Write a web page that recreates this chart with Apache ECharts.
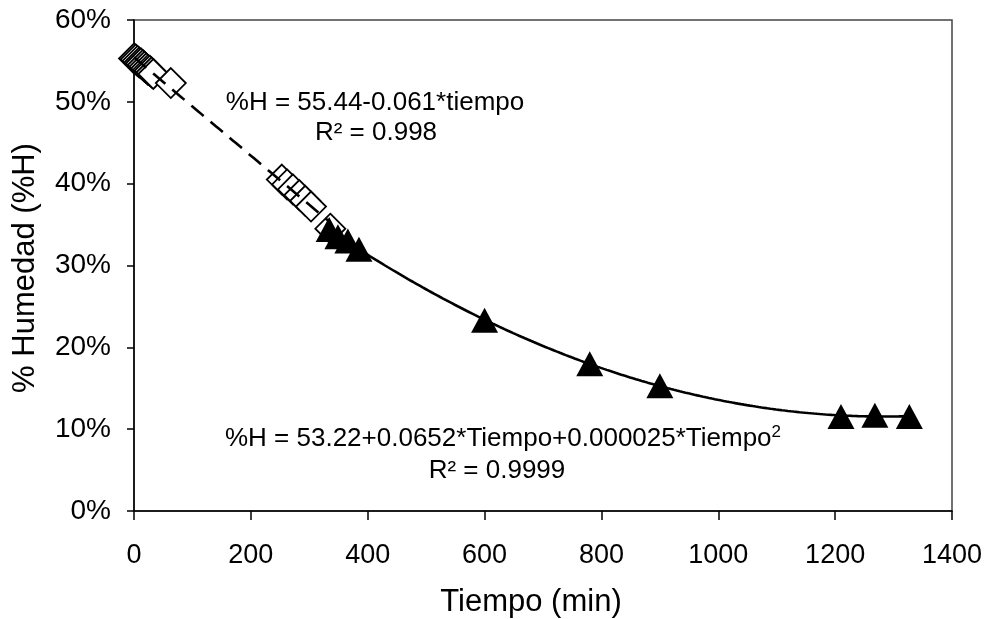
<!DOCTYPE html>
<html>
<head>
<meta charset="utf-8">
<script src="https://cdn.jsdelivr.net/npm/echarts@6/dist/echarts.min.js"></script>
<style>
html,body{margin:0;padding:0;background:#fff;}
#main{width:988px;height:619px;}
</style>
</head>
<body>
<div id="main"></div>
<script>
// ---- data ----
const diamondTime = [0, 3, 6, 9, 12, 15, 18, 21, 24, 27, 30, 33, 63, 253, 262, 272, 283, 293, 303, 336];
const diamondHum  = [55.3, 55.2, 55.0, 54.8, 54.7, 54.5, 54.3, 54.1, 53.9, 53.8, 53.6, 53.4, 52.3, 40.5, 39.9, 39.3, 38.6, 37.9, 37.2, 34.5];
const triangleTime = [334, 349, 366, 385, 600, 780, 900, 1210, 1268, 1327];
const triangleHum  = [34.4, 33.5, 33.0, 32.0, 23.3, 18.0, 15.3, 11.55, 11.7, 11.55];
const xTicks = [0, 200, 400, 600, 800, 1000, 1200, 1400];
const yTicks = [0, 10, 20, 30, 40, 50, 60];
const eq1 = '%H = 55.44-0.061*tiempo';
const r1 = 'R² = 0.998';
const eq2 = '%H = 53.22+0.0652*Tiempo+0.000025*Tiempo';
const r2 = 'R² = 0.9999';
const xTitle = 'Tiempo (min)';
const yTitle = '% Humedad (%H)';

// ---- least-squares trendlines (like the spreadsheet trendlines) ----
function polyFit(xs, ys, deg) {
  const n = deg + 1;
  const A = [];
  for (let i = 0; i < n; i++) { A.push(new Array(n + 1).fill(0)); }
  for (let k = 0; k < xs.length; k++) {
    for (let i = 0; i < n; i++) {
      for (let j = 0; j < n; j++) A[i][j] += Math.pow(xs[k], i + j);
      A[i][n] += ys[k] * Math.pow(xs[k], i);
    }
  }
  for (let i = 0; i < n; i++) {
    let p = i;
    for (let r = i + 1; r < n; r++) if (Math.abs(A[r][i]) > Math.abs(A[p][i])) p = r;
    [A[i], A[p]] = [A[p], A[i]];
    for (let r = 0; r < n; r++) {
      if (r === i) continue;
      const f = A[r][i] / A[i][i];
      for (let c = i; c <= n; c++) A[r][c] -= f * A[i][c];
    }
  }
  return A.map((row, i) => row[n] / row[i]);
}
function trend(xs, ys, deg, step) {
  const c = polyFit(xs, ys, deg);
  const lo = Math.min.apply(null, xs), hi = Math.max.apply(null, xs);
  const ev = t => { let v = 0; for (let i = 0; i < c.length; i++) v += c[i] * Math.pow(t, i); return v; };
  const pts = [];
  for (let t = lo; t <= hi + 1e-9; t += step) pts.push([t, ev(t)]);
  if (pts[pts.length - 1][0] < hi) pts.push([hi, ev(hi)]);
  return pts;
}
const linTrend = trend(diamondTime, diamondHum, 1, 5);
const quadTrend = trend(triangleTime, triangleHum, 2, 5);

const FONT = 'Liberation Sans, Arial, sans-serif';
const chart = echarts.init(document.getElementById('main'), null, {renderer: 'canvas'});
chart.setOption({
  animation: false,
  backgroundColor: '#fff',
  grid: {left: 134, right: 36, top: 20, bottom: 108, show: true, borderColor: '#444', borderWidth: 1.5, backgroundColor: 'transparent'},
  xAxis: {
    type: 'value', min: xTicks[0], max: xTicks[xTicks.length - 1], interval: 200,
    axisLine: {show: true, onZero: false, lineStyle: {color: '#000', width: 1.5}},
    axisTick: {show: true, inside: false, length: 9, lineStyle: {color: '#000', width: 1.5}},
    axisLabel: {color: '#000', fontFamily: FONT, fontSize: 27, margin: 31, formatter: v => String(v)},
    splitLine: {show: false}
  },
  yAxis: {
    type: 'value', min: yTicks[0], max: yTicks[yTicks.length - 1], interval: 10,
    axisLine: {show: true, onZero: false, lineStyle: {color: '#000', width: 1.5}},
    axisTick: {show: true, inside: false, length: 7, lineStyle: {color: '#000', width: 1.5}},
    axisLabel: {color: '#000', fontFamily: FONT, fontSize: 28, margin: 23, formatter: v => v + '%'},
    splitLine: {show: false}
  },
  series: [
    {
      type: 'scatter', name: 'lineal', z: 2,
      data: diamondTime.map((t, i) => [t, diamondHum[i]]),
      symbol: 'diamond', symbolSize: 30,
      itemStyle: {color: '#fff', borderColor: '#000', borderWidth: 1.8, opacity: 1}
    },
    {
      type: 'scatter', name: 'cuadratica', z: 3,
      data: triangleTime.map((t, i) => [t, triangleHum[i]]),
      symbol: 'triangle', symbolSize: [27, 25],
      itemStyle: {color: '#000', borderColor: '#000', borderWidth: 0, opacity: 1}
    },
    {
      type: 'line', z: 4, data: linTrend, showSymbol: false, symbol: 'none', smooth: false,
      lineStyle: {color: '#000', width: 2.6, type: [16, 9]}
    },
    {
      type: 'line', z: 4, data: quadTrend, showSymbol: false, symbol: 'none', smooth: false,
      lineStyle: {color: '#000', width: 2.6, type: 'solid'}
    }
  ],
  graphic: [
    {type: 'text', x: 375, y: 103, z: 10, style: {text: eq1, font: '26px ' + FONT, fill: '#000', align: 'center', verticalAlign: 'middle'}},
    {type: 'text', x: 376, y: 133, z: 10, style: {text: r1, font: '26px ' + FONT, fill: '#000', align: 'center', verticalAlign: 'middle'}},
    {type: 'text', x: 503, y: 439, z: 10, style: {
      text: eq2 + '{sup|2}', font: '26px ' + FONT, fill: '#000', align: 'center', verticalAlign: 'middle',
      rich: {sup: {fontSize: 17, fontFamily: FONT, verticalAlign: 'top', fill: '#000', padding: [0, 0, 14, 0]}}
    }},
    {type: 'text', x: 497, y: 471, z: 10, style: {text: r2, font: '26px ' + FONT, fill: '#000', align: 'center', verticalAlign: 'middle'}},
    {type: 'text', x: 531, y: 602, z: 10, style: {text: xTitle, font: '31px ' + FONT, fill: '#000', align: 'center', verticalAlign: 'middle'}},
    {type: 'text', x: 25, y: 268, rotation: Math.PI / 2, z: 10, style: {text: yTitle, font: '31px ' + FONT, fill: '#000', align: 'center', verticalAlign: 'middle'}}
  ]
});
</script>
</body>
</html>
